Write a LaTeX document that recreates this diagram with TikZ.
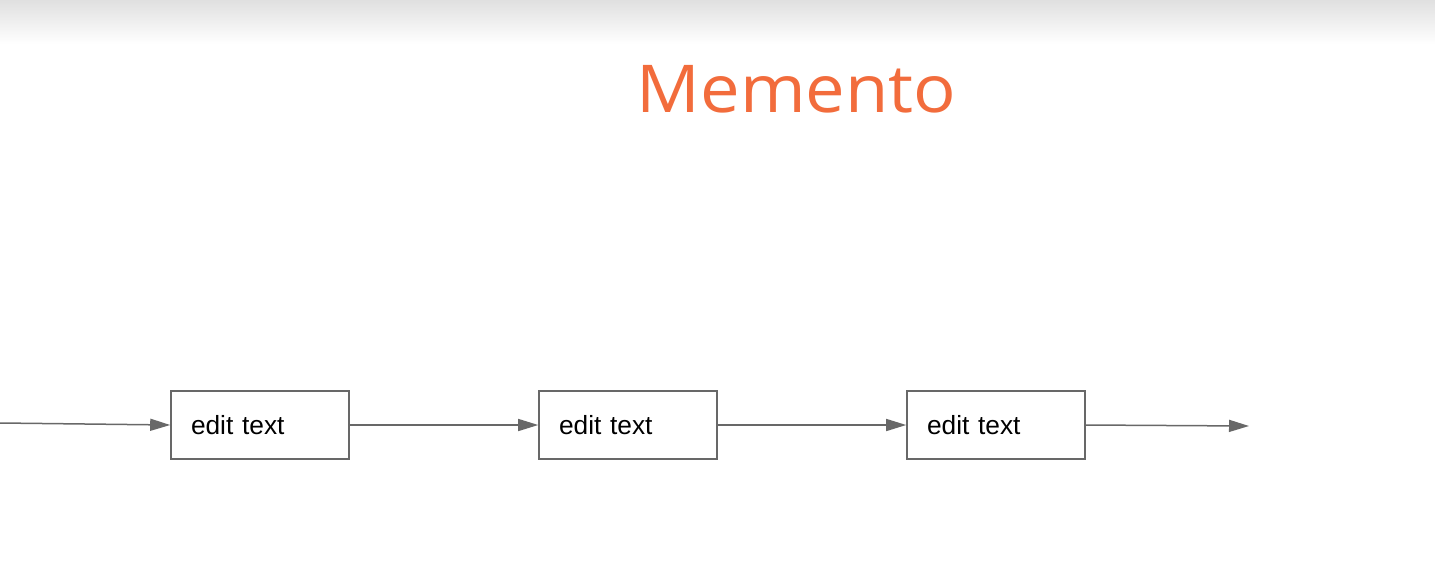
\documentclass[tikz,border=0pt]{standalone}
\usepackage{fontspec}
\setmainfont{Liberation Sans}
\newfontfamily\titlefont{Open Sans}
\usetikzlibrary{arrows.meta}
\definecolor{titleorange}{RGB}{242,108,60}
\definecolor{linegray}{RGB}{104,104,104}
\begin{document}
\begin{tikzpicture}[x=1pt,y=-1pt,
  state/.style={draw=linegray, line width=1.6pt, fill=white, minimum height=68pt,
    text width=138pt, inner xsep=20pt, inner ysep=0pt, align=left,
    font=\fontsize{26.3}{30}\selectfont},
  link/.style={draw=linegray, line width=1.5pt, -{Triangle[length=20pt,width=12pt]}}]
\useasboundingbox (0,0) rectangle (1435,565);
\fill[white] (0,0) rectangle (1435,565);
\shade[top color={rgb,255:red,224;green,224;blue,224}, bottom color=white] (0,0) rectangle (1435,44);
\node[text=titleorange, font=\titlefont\fontsize{66}{76}\selectfont, anchor=base, xscale=1.07, inner sep=0pt] (title) at (796.5,112) {Memento};
\node[state] (b1) at (260,425) {edit text};
\node[state] (b2) at (628,425) {edit text};
\node[state] (b3) at (996,425) {edit text};
\coordinate (s) at (0,423);
\coordinate (e) at (1249,426);
\draw[link] (s) -- (b1.west);
\draw[link] (b1.east) -- (b2.west);
\draw[link] (b2.east) -- (b3.west);
\draw[link] (b3.east) -- (e);
\end{tikzpicture}
\end{document}
